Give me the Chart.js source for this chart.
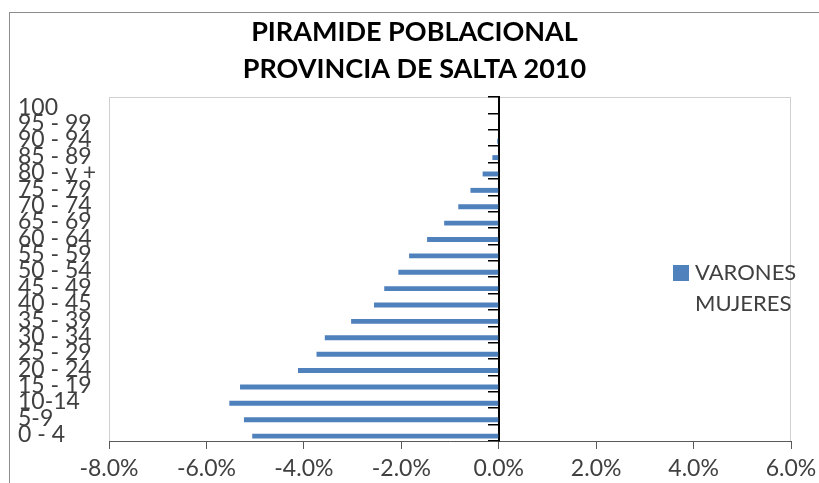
<!DOCTYPE html>
<html>
<head>
<meta charset="utf-8">
<title>Piramide Poblacional Salta 2010</title>
<script src="https://cdn.jsdelivr.net/npm/chart.js"></script>
<style>
  html, body { margin: 0; padding: 0; background: #fff; }
  #wrap { position: relative; width: 819px; height: 483px; overflow: hidden; }
  #marco { position: absolute; left: 9px; top: 12px; width: 830px; height: 500px; border: 1px solid #8c8c8c; }
  #legend { position: absolute; left: 673px; top: 256px; font-family: Lato, sans-serif; font-size: 22px; color: #404040; }
  #legend .item { height: 31px; line-height: 31px; white-space: nowrap; }
  #legend .box { display: inline-block; width: 16px; height: 16px; margin-right: 6px; vertical-align: -1px; }
</style>
</head>
<body>
<div id="wrap">
  <div id="marco"></div>
  <canvas id="piramide" width="819" height="483"></canvas>
  <div id="legend"></div>
</div>

<script>
  // grupos de edad, de abajo hacia arriba
  const edades = ['0 - 4', '5-9', '10-14', '15 - 19', '20 - 24', '25 - 29', '30 - 34',
                  '35 - 39', '40 - 45', '45 - 49', '50 - 54', '55 - 59', '60 - 64',
                  '65 - 69', '70 - 74', '75 - 79', '80 - y +', '85 - 89', '90 - 94',
                  '95 - 99', '100'];
  // % sobre el total (negativo = lado izquierdo)
  const varones = [-5.06, -5.23, -5.53, -5.31, -4.12, -3.74, -3.57, -3.03, -2.56, -2.35,
                   -2.06, -1.84, -1.47, -1.12, -0.83, -0.58, -0.33, -0.13, -0.03, 0, 0];
  // la serie de mujeres no tiene barras en el gráfico original
  const mujeres = [null, null, null, null, null, null, null, null, null, null, null,
                   null, null, null, null, null, null, null, null, null, null];
  const ticksX = [-8, -6, -4, -2, 0, 2, 4, 6];

  // marco gris del área de trazado
  const marcoPlot = {
    id: 'marcoPlot',
    beforeDraw(chart) {
      const { ctx, chartArea: a } = chart;
      ctx.save();
      ctx.strokeStyle = '#d0d0d0';
      ctx.lineWidth = 1;
      ctx.strokeRect(Math.round(a.left) + 0.5, Math.round(a.top) + 0.5, a.width - 1, a.height);
      ctx.restore();
    }
  };

  // el título de Excel queda un poco a la derecha
  const moverTitulo = {
    id: 'moverTitulo',
    afterLayout(chart) {
      chart.titleBlock.left += 10;
      chart.titleBlock.right += 10;
    }
  };

  // leyenda en html, sobre el área de trazado
  const leyendaHtml = {
    id: 'leyendaHtml',
    afterUpdate(chart) {
      const items = chart.options.plugins.legend.labels.generateLabels(chart).reverse();
      const cont = document.getElementById('legend');
      cont.innerHTML = '';
      items.forEach(it => {
        const fila = document.createElement('div');
        fila.className = 'item';
        const caja = document.createElement('span');
        caja.className = 'box';
        caja.style.background = it.fillStyle;
        const txt = document.createElement('span');
        txt.textContent = it.text;
        fila.append(caja, txt);
        cont.appendChild(fila);
      });
    }
  };

  const ctx = document.getElementById('piramide').getContext('2d');
  const chart = new Chart(ctx, {
    type: 'bar',
    data: {
      labels: edades,
      datasets: [
        {
          label: 'MUJERES',
          data: mujeres,
          backgroundColor: 'rgba(0,0,0,0)',
          borderWidth: 0
        },
        {
          label: 'VARONES',
          data: varones,
          backgroundColor: '#4f81bd',
          borderWidth: 0
        }
      ]
    },
    options: {
      indexAxis: 'y',
      responsive: false,
      animation: false,
      categoryPercentage: 0.8,
      barPercentage: 0.75,
      layout: { padding: { top: 14, left: 18, right: 28, bottom: 0 } },
      plugins: {
        legend: { display: false },
        tooltip: { enabled: false },
        title: {
          display: true,
          text: ['PIRAMIDE POBLACIONAL', 'PROVINCIA DE SALTA 2010'],
          color: '#000',
          font: { family: 'Lato', size: 27, weight: 'bold', lineHeight: 1.37 },
          padding: { top: 0, bottom: 9 }
        }
      },
      scales: {
        x: {
          type: 'linear',
          min: -8,
          max: 6,
          position: 'bottom',
          afterBuildTicks(s) { s.ticks = ticksX.map(v => ({ value: v })); },
          afterFit(s) { s.height = 42; s.paddingRight = 0; s.paddingLeft = 0; },
          grid: { drawOnChartArea: false, drawTicks: true, tickLength: 8, tickColor: '#595959' },
          border: { color: '#595959', width: 1 },
          ticks: {
            padding: 6,
            maxRotation: 0,
            color: '#404040',
            font: { family: 'Lato', size: 23 },
            callback: v => v.toFixed(1) + '%'
          }
        },
        y: {
          type: 'category',
          reverse: true,
          position: 'left',
          offset: true,
          afterFit(s) { s.width = 91; },
          grid: { display: false, offset: true },
          border: { display: false },
          ticks: {
            autoSkip: false,
            crossAlign: 'far',
            padding: 0,
            labelOffset: 2,
            color: '#404040',
            font: { family: 'Lato', size: 23 }
          }
        },
        // eje vertical en 0% con sus marcas entre categorías
        yCero: {
          axis: 'y',
          type: 'category',
          reverse: true,
          position: { x: 0 },
          offset: true,
          grid: { offset: true, drawOnChartArea: false, drawTicks: true, tickLength: 10, tickColor: '#000', lineWidth: 1.5 },
          border: { display: true, color: '#000', width: 2 },
          ticks: { display: false, autoSkip: false }
        }
      }
    },
    plugins: [marcoPlot, moverTitulo, leyendaHtml]
  });
</script>
</body>
</html>
